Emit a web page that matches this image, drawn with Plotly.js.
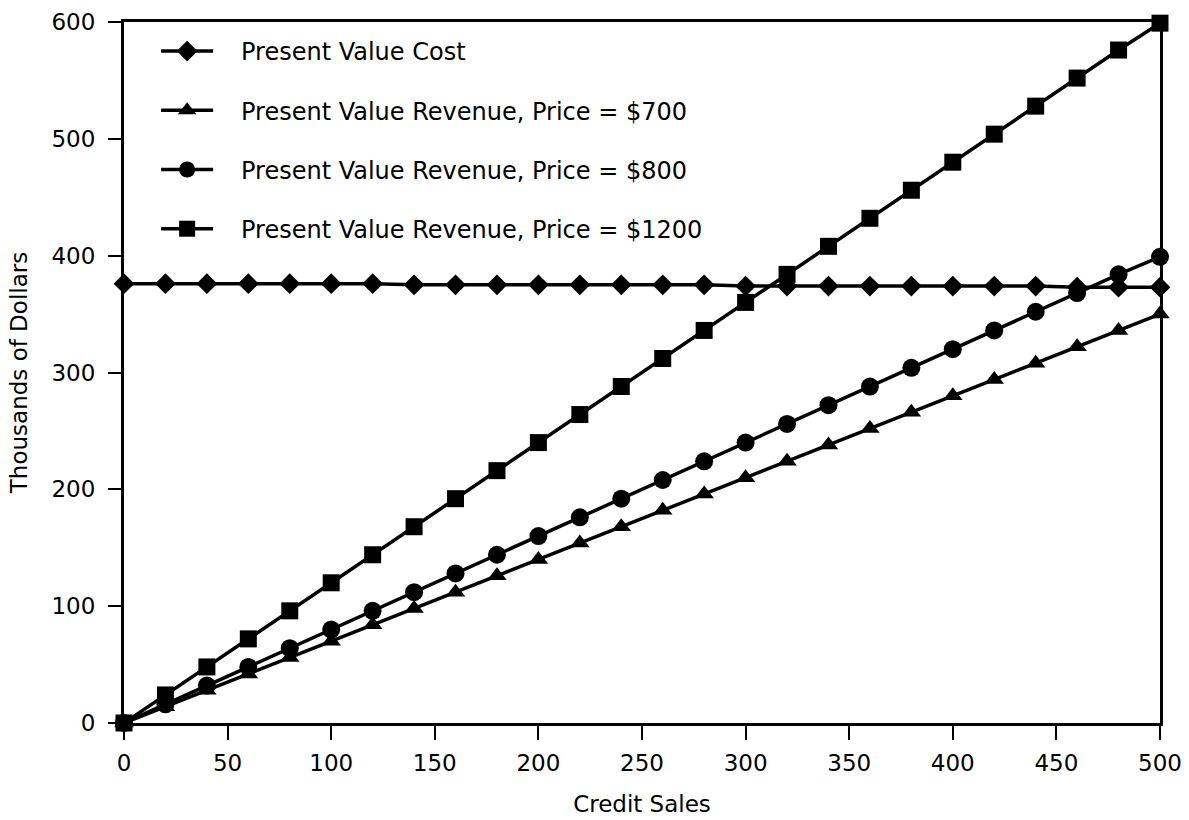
<!DOCTYPE html>
<html>
<head>
<meta charset="utf-8">
<script src="https://cdn.plot.ly/plotly-3.0.1.min.js"></script>
<style>html,body{margin:0;padding:0;background:#fff;}#chart{width:1189px;height:820px;}</style>
</head>
<body>
<div id="chart"></div>
<script>
const creditSales = [0,20,40,60,80,100,120,140,160,180,200,220,240,260,280,300,320,340,360,380,400,420,440,460,480,500];
const pvCost = [376,376,376,376,376,376,376,375,375,375,375,375,375,375,375,374,374,374,374,374,374,374,374,373,373,373];
const pvRev700 = [0,14,28,42,56,70,84,98,112,126,140,154,168,182,196,210,224,238,252,266,280,294,308,322,336,350];
const pvRev800 = [0,16,32,48,64,80,96,112,128,144,160,176,192,208,224,240,256,272,288,304,320,336,352,368,384,399];
const pvRev1200 = [0,24,48,72,96,120,144,168,192,216,240,264,288,312,336,360,384,408,432,456,480,504,528,552,576,599];
const seriesNames = ["Present Value Cost","Present Value Revenue, Price = $700","Present Value Revenue, Price = $800","Present Value Revenue, Price = $1200"];
const xTicks = [0,50,100,150,200,250,300,350,400,450,500];
const yTicks = [0,100,200,300,400,500,600];

const symbols = ["diamond","triangle-up","circle","square"];
const sizes = [16,17,18,17];
const ys = [pvCost, pvRev700, pvRev800, pvRev1200];
const pad = "\u00a0\u00a0\u00a0";

const traces = ys.map((y,i)=>({
  x: creditSales, y: y, name: pad + seriesNames[i], type: "scatter", mode: "lines+markers",
  legendgroup: "g"+i,
  cliponaxis: false,
  line: {color: "#000", width: 3.5},
  marker: {symbol: symbols[i], size: sizes[i], color: "#000", line: {width: 0}}
}));

const font = "DejaVu Sans, Liberation Sans, Arial, sans-serif";
const layout = {
  width: 1189, height: 820,
  margin: {l: 124, r: 29, t: 22, b: 97},
  paper_bgcolor: "#fff", plot_bgcolor: "#fff",
  font: {family: font, color: "#000", size: 21},
  showlegend: true,
  legend: {x: 0.031, y: 0.99, xanchor: "left", yanchor: "top", bgcolor: "rgba(0,0,0,0)",
           font: {size: 24, family: font, color: "#000"}, traceorder: "grouped", tracegroupgap: 25, itemwidth: 52},
  xaxis: {range: [0,500], tickvals: xTicks, ticktext: xTicks.map(String), showgrid: false, zeroline: false,
          showline: true, linecolor: "#000", linewidth: 3, mirror: true,
          ticks: "outside", ticklen: 14, tickwidth: 2, tickcolor: "#000", ticklabelstandoff: 3,
          tickfont: {size: 23}, title: {text: "Credit Sales", font: {size: 23}, standoff: 22}},
  yaxis: {range: [0,600], tickvals: yTicks, ticktext: yTicks.map(String), showgrid: false, zeroline: false,
          showline: true, linecolor: "#000", linewidth: 3, mirror: true,
          ticks: "outside", ticklen: 13, tickwidth: 2, tickcolor: "#000", ticklabelstandoff: 8,
          tickfont: {size: 23}, title: {text: "Thousands of Dollars", font: {size: 23}, standoff: 18}}
};
Plotly.newPlot("chart", traces, layout, {displayModeBar: false, staticPlot: true});
</script>
</body>
</html>
